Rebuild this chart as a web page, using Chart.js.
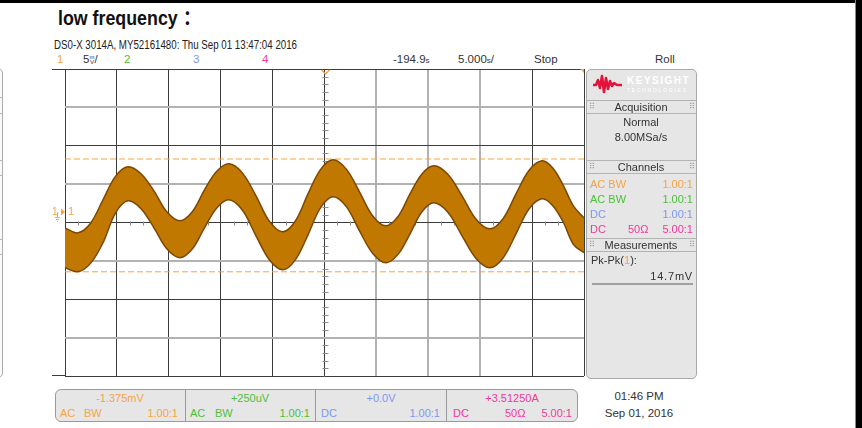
<!DOCTYPE html>
<html>
<head>
<meta charset="utf-8">
<title>low frequency</title>
<script src="https://cdn.jsdelivr.net/npm/chart.js@4.4.1/dist/chart.umd.min.js"></script>
<style>
  html, body { margin: 0; padding: 0; }
  body { width: 862px; height: 428px; position: relative; overflow: hidden; background: #fff;
         font-family: "Liberation Sans", Arial, "Noto Sans CJK SC", sans-serif; color: #333; }
  .a { position: absolute; white-space: nowrap; line-height: 1; font-size: 11px; }
  .c { transform: translateX(-50%); }
  .r { transform: translateX(-100%); }
  .or { color: #f5a445; }
  .gr { color: #4cbf3c; }
  .bl { color: #7f97ee; }
  .pk { color: #ee3a9a; }
  .ln { position: absolute; background: #b3b3b3; height: 1px; }
  .grip { position: absolute; font-family: "DejaVu Sans", sans-serif; font-size: 8px; color: #9a9a9a; line-height: 1; }
  .stk { display: inline-block; font-size: 6px; line-height: 5px; text-align: center; vertical-align: -1px; }
  #wrap { position: absolute; left: 40px; top: 64px; width: 552px; height: 316px; }
</style>
</head>
<body>

<!-- screenshot frame -->
<div class="a" style="left:0;top:0;width:858px;height:3px;background:#000"></div>
<div class="a" style="left:855px;top:0;width:1px;height:428px;background:#888"></div>
<div class="a" style="left:856px;top:0;width:6px;height:428px;background:#000"></div>

<div class="a" style="left:58px;top:8px;font-size:20px;font-weight:bold;color:#111;transform:scaleX(.89);transform-origin:0 0">low frequency<span style="margin-left:6px">：</span></div>
<div class="a" style="left:54px;top:38.5px;font-size:12px;color:#222;transform:scaleX(.81);transform-origin:0 0">DS0-X 3014A, MY52161480: Thu Sep 01 13:47:04 2016</div>

<!-- channel / timebase row -->
<div class="a or" style="left:57px;top:54.4px;font-size:11.5px">1</div>
<div class="a" style="left:83px;top:54.4px;font-size:11.5px">5<span class="stk">m<br>V</span>/</div>
<div class="a gr" style="left:124px;top:54.4px;font-size:11.5px">2</div>
<div class="a bl" style="left:193px;top:54.4px;font-size:11.5px">3</div>
<div class="a pk" style="left:262px;top:54.4px;font-size:11.5px">4</div>
<div class="a" style="left:393px;top:54.4px;font-size:11.5px">-194.9<span style="font-size:8px">s</span></div>
<div class="a" style="left:458px;top:54.4px;font-size:11.5px">5.000<span style="font-size:8px">s</span>/</div>
<div class="a" style="left:534px;top:54.4px;font-size:11.5px">Stop</div>
<div class="a" style="left:655px;top:54.4px;font-size:11.5px">Roll</div>

<!-- left panel edge -->
<div class="a" style="left:-12px;top:68px;width:15px;height:310px;box-sizing:border-box;border:1px solid #aaa;border-radius:5px;background:#fafafa"></div>
<div class="ln" style="left:0;top:97px;width:3px"></div>
<div class="ln" style="left:0;top:113px;width:3px"></div>
<div class="ln" style="left:0;top:160px;width:3px"></div>
<div class="ln" style="left:0;top:175px;width:3px"></div>
<div class="ln" style="left:0;top:239px;width:3px"></div>
<div class="ln" style="left:0;top:254px;width:3px"></div>

<div id="wrap"><canvas id="scope"></canvas></div>

<!-- right side panel -->
<div class="a" style="left:586px;top:69px;width:111px;height:310px;box-sizing:border-box;border:1px solid #a8a8a8;border-radius:5px;background:#e6e6e6"></div>
<svg class="a" style="left:592px;top:73px" width="32" height="22" viewBox="0 0 32 22">
  <polyline points="1,12 4,12 6,7 8,15 10,3 12,19 14,5 16,16 18,8 20,13 22,10 25,12 30,12" fill="none" stroke="#e3143c" stroke-width="2.6" stroke-linejoin="round"/>
</svg>
<div class="a" style="left:627px;top:76px;font-size:10px;font-weight:bold;color:#fff;letter-spacing:1.5px">KEYSIGHT</div>
<div class="a" style="left:627px;top:88px;font-size:5px;color:#fff;letter-spacing:1.75px">TECHNOLOGIES</div>
<div class="ln" style="left:587px;top:100px;width:109px"></div>
<div class="ln" style="left:587px;top:113px;width:109px"></div>
<div class="grip" style="left:589px;top:103px">⠿</div><div class="grip" style="left:689px;top:103px">⠿</div>
<div class="a c" style="left:641px;top:101.6px">Acquisition</div>
<div class="a c" style="left:641px;top:117.1px">Normal</div>
<div class="a c" style="left:641px;top:131.6px">8.00MSa/s</div>
<div class="ln" style="left:587px;top:160px;width:109px"></div>
<div class="ln" style="left:587px;top:173px;width:109px"></div>
<div class="grip" style="left:589px;top:163px">⠿</div><div class="grip" style="left:689px;top:163px">⠿</div>
<div class="a c" style="left:641px;top:161.6px">Channels</div>
<div class="a or" style="left:590px;top:178.6px">AC BW</div><div class="a or r" style="left:693px;top:178.6px">1.00:1</div>
<div class="a gr" style="left:590px;top:193.6px">AC BW</div><div class="a gr r" style="left:693px;top:193.6px">1.00:1</div>
<div class="a bl" style="left:590px;top:208.6px">DC</div><div class="a bl r" style="left:693px;top:208.6px">1.00:1</div>
<div class="a pk" style="left:590px;top:223.6px">DC</div><div class="a pk" style="left:628px;top:223.6px">50Ω</div><div class="a pk r" style="left:693px;top:223.6px">5.00:1</div>
<div class="ln" style="left:587px;top:238px;width:109px"></div>
<div class="ln" style="left:587px;top:251px;width:109px"></div>
<div class="grip" style="left:589px;top:241px">⠿</div><div class="grip" style="left:689px;top:241px">⠿</div>
<div class="a c" style="left:641px;top:240.1px">Measurements</div>
<div class="a" style="left:591px;top:254.6px">Pk-Pk(<span class="or">1</span>):</div>
<div class="a r" style="left:693px;top:271.3px;letter-spacing:0.8px">14.7mV</div>
<div class="a" style="left:592px;top:283px;width:101px;height:2px;background:#a0a0a0"></div>

<!-- bottom channel bar -->
<div class="a" style="left:55px;top:389px;width:523px;height:33px;box-sizing:border-box;border:1px solid #9a9a9a;border-radius:6px;background:#e6e6e6"></div>
<div class="a" style="left:185px;top:390px;width:1px;height:31px;background:#9a9a9a"></div>
<div class="a" style="left:315px;top:390px;width:1px;height:31px;background:#9a9a9a"></div>
<div class="a" style="left:446px;top:390px;width:1px;height:31px;background:#9a9a9a"></div>

<div class="a or c" style="left:120px;top:392.9px">-1.375mV</div>
<div class="a or" style="left:60px;top:407.9px">AC</div><div class="a or" style="left:84px;top:407.9px">BW</div><div class="a or r" style="left:178px;top:407.9px">1.00:1</div>
<div class="a gr c" style="left:250px;top:392.9px">+250uV</div>
<div class="a gr" style="left:190px;top:407.9px">AC</div><div class="a gr" style="left:215px;top:407.9px">BW</div><div class="a gr r" style="left:310px;top:407.9px">1.00:1</div>
<div class="a bl c" style="left:381px;top:392.9px">+0.0V</div>
<div class="a bl" style="left:321px;top:407.9px">DC</div><div class="a bl r" style="left:440px;top:407.9px">1.00:1</div>
<div class="a pk c" style="left:512px;top:392.9px">+3.51250A</div>
<div class="a pk" style="left:453px;top:407.9px">DC</div><div class="a pk" style="left:505px;top:407.9px">50Ω</div><div class="a pk r" style="left:572px;top:407.9px">5.00:1</div>

<div class="a c" style="left:639px;top:391.1px;font-size:11.5px">01:46 PM</div>
<div class="a c" style="left:639px;top:407.7px;font-size:11.5px">Sep 01, 2016</div>

<script>
// Channel 1 capture, roll mode: 5 mV/div, 5 s/div, offset -1.375 mV
// waveform band read off the screen as upper / lower envelope (mV)
const timeFromCentre = [-25.0, -23.75, -22.54, -21.34, -20.14, -18.93, -17.68, -16.43, -15.17, -13.92, -12.74,
                        -11.56, -10.38, -9.20, -7.90, -6.60, -5.30, -4.00, -2.79, -1.59, -0.39,
                        0.82, 2.10, 3.37, 4.65, 5.92, 7.08, 8.24, 9.39, 10.55, 11.90,
                        13.25, 14.60, 15.94, 17.20, 18.45, 19.70, 20.95, 21.97, 22.98, 23.99, 25.0];
const upperMv = [-2.07, -2.72, -1.47, 1.58, 4.63, 5.88, 4.97, 2.75, -0.02, -1.15, 0.02,
                 2.88, 5.29, 6.27, 5.06, 2.10, -1.23, -2.59, -1.15, 2.36, 5.51,
                 6.79, 5.58, 2.62, -0.53, -1.81, -0.60, 2.36, 4.95, 6.01, 4.88,
                 2.10, -0.95, -2.20, -0.88, 2.36, 5.41, 6.66, 5.76, 3.53, 0.75, -0.76];
const lowerMv = [-7.27, -7.79, -6.70, -4.02, -0.14, 1.45, 0.43, -2.07, -4.84, -5.97, -4.84,
                 -2.07, 0.52, 1.58, 0.22, -3.11, -6.25, -7.53, -6.21, -2.98, 0.53,
                 1.97, 0.69, -2.46, -5.41, -6.62, -5.53, -2.85, 0.02, 1.19, -0.06,
                 -3.11, -6.06, -7.27, -5.99, -2.85, 0.39, 1.71, 0.85, -1.28, -4.26, -5.32];
const cursorMv = [6.9, -7.8];   // Pk-Pk cursors, 14.7 mV apart

const offsetMv = -1.375;
const mvPerDiv = 5;
const secPerDiv = 5;
const xDivs = 10, yDivs = 8;

const ORANGE = '#f5a445';

const xMin = -secPerDiv * xDivs / 2, xMax = secPerDiv * xDivs / 2;
const yMin = offsetMv - mvPerDiv * yDivs / 2, yMax = offsetMv + mvPerDiv * yDivs / 2;

function points(ys) {
    return timeFromCentre.map((t, i) => ({ x: t, y: ys[i] }));
}

// grid: scope lines render either thin+dark or soft+grey
function xGridDark(i) { return !(i >= 6 && i <= 8); }
function yGridDark(i) { return i % 2 === 0; }

const scopeDecor = {
    id: 'scopeDecor',
    beforeDatasetsDraw(chart) {
        const { ctx, scales: { x, y } } = chart;
        const cx = Math.round(x.getPixelForValue(0)) + 0.5;
        const cy = Math.round(y.getPixelForValue(offsetMv)) + 0.5;
        ctx.save();
        ctx.strokeStyle = '#8c8c8c';
        ctx.lineWidth = 1;
        ctx.beginPath();
        // minor ticks on the vertical centre line, 5 per division
        for (let d = 0; d < yDivs; d++) {
            for (let k = 1; k < 5; k++) {
                const py = Math.round(y.getPixelForValue(yMin + (d + k / 5) * mvPerDiv)) + 0.5;
                ctx.moveTo(cx - 3, py); ctx.lineTo(cx + 3, py);
            }
        }
        // minor ticks on the horizontal centre line
        for (let d = 0; d < xDivs; d++) {
            for (let k = 1; k < 4; k++) {
                const px = Math.round(x.getPixelForValue(xMin + (d + k / 4) * secPerDiv)) + 0.5;
                ctx.moveTo(px, cy - 2); ctx.lineTo(px, cy + 2);
            }
        }
        ctx.stroke();
        ctx.restore();
    },
    afterDraw(chart) {
        const { ctx, chartArea: a, scales: { x, y } } = chart;
        ctx.save();
        // frame stubs to the left
        ctx.strokeStyle = '#3c3c3c';
        ctx.lineWidth = 1;
        ctx.beginPath();
        ctx.moveTo(a.left - 13, Math.round(a.top) + 0.5); ctx.lineTo(a.left, Math.round(a.top) + 0.5);
        ctx.moveTo(a.left - 13, Math.round(a.bottom) - 0.5); ctx.lineTo(a.left, Math.round(a.bottom) - 0.5);
        ctx.stroke();

        // trigger position marker, top centre
        const cx = Math.round(x.getPixelForValue(0)) + 0.5;
        ctx.strokeStyle = ORANGE;
        ctx.lineWidth = 1.5;
        ctx.beginPath();
        ctx.moveTo(cx - 4, a.top + 1); ctx.lineTo(cx, a.top + 5); ctx.lineTo(cx + 4, a.top + 1);
        ctx.stroke();

        // roll indicator, top right corner
        ctx.fillStyle = ORANGE;
        ctx.beginPath();
        ctx.moveTo(a.right - 4, a.top); ctx.lineTo(a.right, a.top); ctx.lineTo(a.right, a.top + 4);
        ctx.closePath();
        ctx.fill();

        // channel 1 ground reference
        const gy = y.getPixelForValue(0);
        ctx.font = '10px "Liberation Sans", Arial, sans-serif';
        ctx.textBaseline = 'middle';
        ctx.fillText('1', a.left - 13, gy);
        ctx.lineWidth = 1;
        ctx.beginPath();
        ctx.moveTo(a.left - 7.5, gy); ctx.lineTo(a.left - 7.5, gy + 5);
        ctx.moveTo(a.left - 10, gy + 5.5); ctx.lineTo(a.left - 5, gy + 5.5);
        ctx.moveTo(a.left - 9, gy + 7.5); ctx.lineTo(a.left - 6, gy + 7.5);
        ctx.moveTo(a.left - 8, gy + 9.5); ctx.lineTo(a.left - 7, gy + 9.5);
        ctx.stroke();
        ctx.beginPath();
        ctx.moveTo(a.left - 4, gy - 3.5); ctx.lineTo(a.left, gy); ctx.lineTo(a.left - 4, gy + 3.5);
        ctx.closePath();
        ctx.fill();
        ctx.font = '11px "Liberation Sans", Arial, sans-serif';
        ctx.fillText('1', a.left + 3, gy);
        ctx.restore();
    }
};

new Chart(document.getElementById('scope'), {
    type: 'line',
    data: {
        datasets: [{
            label: 'ch1 upper',
            data: points(upperMv),
            borderColor: '#7c4700',
            borderWidth: 1.5,
            fill: false,
            order: 1
        }, {
            label: 'ch1 lower',
            data: points(lowerMv),
            borderColor: '#7c4700',
            borderWidth: 1.5,
            backgroundColor: '#c07800',
            fill: '-1',
            order: 1
        }, {
            label: 'cursor A',
            data: [{ x: xMin, y: cursorMv[0] }, { x: xMax, y: cursorMv[0] }],
            borderColor: ORANGE,
            borderWidth: 1,
            borderDash: [6, 3],
            fill: false,
            tension: 0,
            order: 3
        }, {
            label: 'cursor B',
            data: [{ x: xMin, y: cursorMv[1] }, { x: xMax, y: cursorMv[1] }],
            borderColor: ORANGE,
            borderWidth: 1,
            borderDash: [6, 3],
            fill: false,
            tension: 0,
            order: 3
        }]
    },
    options: {
        responsive: true,
        maintainAspectRatio: false,
        animation: false,
        events: [],
        layout: { padding: { left: 25, top: 5, right: 8, bottom: 4 } },
        elements: {
            point: { radius: 0 },
            line: { tension: 0.35 }
        },
        plugins: {
            legend: { display: false },
            tooltip: { enabled: false }
        },
        scales: {
            x: {
                type: 'linear',
                min: xMin,
                max: xMax,
                afterBuildTicks: scale => {
                    const ticks = [];
                    for (let i = 0; i <= xDivs; i++) ticks.push({ value: xMin + i * secPerDiv });
                    scale.ticks = ticks;
                },
                ticks: { display: false },
                border: { display: false },
                grid: {
                    drawTicks: false,
                    color: c => xGridDark(c.index) ? '#3c3c3c' : '#b2b2b2',
                    lineWidth: c => xGridDark(c.index) ? 1 : 2
                }
            },
            y: {
                type: 'linear',
                min: yMin,
                max: yMax,
                afterBuildTicks: scale => {
                    const ticks = [];
                    for (let i = 0; i <= yDivs; i++) ticks.push({ value: yMin + i * mvPerDiv });
                    scale.ticks = ticks;
                },
                ticks: { display: false },
                border: { display: false },
                grid: {
                    drawTicks: false,
                    color: c => yGridDark(c.index) ? '#3c3c3c' : '#b2b2b2',
                    lineWidth: c => yGridDark(c.index) ? 1 : 2
                }
            }
        }
    },
    plugins: [scopeDecor]
});
</script>
</body>
</html>
